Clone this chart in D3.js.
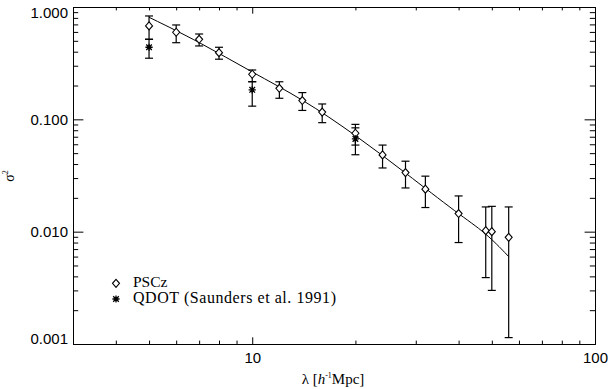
<!DOCTYPE html>
<html><head><meta charset="utf-8">
<script src="https://cdn.jsdelivr.net/npm/d3@7/dist/d3.min.js"></script>
<style>
html,body{margin:0;padding:0;background:#fff;}
svg{display:block;}
.tl text{font-family:"Liberation Sans",Arial,Helvetica,sans-serif;font-size:15px;fill:#000;}
.serif{font-family:"Liberation Serif","Times New Roman",Times,serif;fill:#000;}
</style></head>
<body>
<svg id="c" width="608" height="389"></svg>
<script>
// ---- data ----
const pscLambda = [5, 6, 7, 8, 10, 12, 14, 16, 20, 24, 28, 32, 40, 48, 50, 56];
const pscSigma  = [0.678, 0.596, 0.516, 0.392, 0.252, 0.189, 0.147, 0.116, 0.0752, 0.0482, 0.0336, 0.0239, 0.0145, 0.0102, 0.0100, 0.0089];
const pscHi     = [0.832, 0.692, 0.575, 0.438, 0.275, 0.216, 0.173, 0.137, 0.0902, 0.059, 0.0424, 0.0312, 0.0208, 0.0166, 0.0168, 0.0166];
const pscLo     = [0.516, 0.481, 0.450, 0.343, 0.2165, 0.154, 0.120, 0.0934, 0.059, 0.0369, 0.0245, 0.0164, 0.0080, 0.0039, 0.0030, 0.00114];

const qdotLambda = [5, 10, 20];
const qdotSigma  = [0.438, 0.183, 0.067];
const qdotHi     = [0.516, 0.216, 0.084];
const qdotLo     = [0.350, 0.131, 0.0484];

const fitLambda = [5, 7, 10, 14, 20, 28, 40, 48, 56];
const fitSigma  = [0.81, 0.49, 0.262, 0.152, 0.0726, 0.0334, 0.0143, 0.0098, 0.0060];

const xMajorTicks = [10, 100];
const xMinorTicks = [3, 4, 5, 6, 7, 8, 9, 20, 30, 40, 50, 60, 70, 80, 90];
const yMajorTicks = [1, 0.1, 0.01, 0.001];
const yMinorTicks = [];
[0.001, 0.01, 0.1].forEach(d => { for (let k = 2; k <= 9; k++) yMinorTicks.push(+(d * k).toPrecision(3)); });

const legendLabels = ["PSCz", "QDOT (Saunders et al. 1991)"];

// ---- layout ----
const L = 73, R = 595, T = 7, B = 344;
const svg = d3.select("#c");
const x = d3.scaleLog().domain([3, 100]).range([L, R]);
const y = d3.scaleLog().domain([0.001, 1]).range([B, T]);
const xMaj = 6.7, xMin = 3.4, yMaj = 10.4, yMin = 5.2;

function style(g) {
  g.select(".domain").attr("stroke", "#000").attr("stroke-width", 1);
  g.selectAll(".tick line").attr("stroke", "#000").attr("stroke-width", 1);
}

// bottom axis
const gB = svg.append("g").attr("class", "tl").attr("transform", `translate(0,${B})`)
  .call(d3.axisBottom(x).tickValues(xMajorTicks).tickSize(-xMaj).tickSizeOuter(0).tickPadding(8).tickFormat(d3.format("d")));
style(gB);
gB.selectAll("text").attr("font-size", 15);
svg.append("g").attr("transform", `translate(0,${B})`)
  .call(d3.axisBottom(x).tickValues(xMinorTicks).tickSize(-xMin).tickSizeOuter(0).tickFormat(""))
  .call(style);
// top axis
svg.append("g").attr("transform", `translate(0,${T})`)
  .call(d3.axisTop(x).tickValues(xMajorTicks).tickSize(-xMaj).tickSizeOuter(0).tickFormat("")).call(style);
svg.append("g").attr("transform", `translate(0,${T})`)
  .call(d3.axisTop(x).tickValues(xMinorTicks).tickSize(-xMin).tickSizeOuter(0).tickFormat("")).call(style);

// left axis
const gL = svg.append("g").attr("class", "tl").attr("transform", `translate(${L},0)`)
  .call(d3.axisLeft(y).tickValues(yMajorTicks).tickSize(-yMaj).tickSizeOuter(0).tickPadding(5).tickFormat(d3.format(".3f")));
style(gL);
gL.selectAll(".tick text").attr("font-size", 15).attr("y", d => d === 1 ? 6 : (d === 0.001 ? -5.5 : 0));
svg.append("g").attr("transform", `translate(${L},0)`)
  .call(d3.axisLeft(y).tickValues(yMinorTicks).tickSize(-yMin).tickSizeOuter(0).tickFormat("")).call(style);
// right axis
svg.append("g").attr("transform", `translate(${R},0)`)
  .call(d3.axisRight(y).tickValues(yMajorTicks).tickSize(-yMaj).tickSizeOuter(0).tickFormat("")).call(style);
svg.append("g").attr("transform", `translate(${R},0)`)
  .call(d3.axisRight(y).tickValues(yMinorTicks).tickSize(-yMin).tickSizeOuter(0).tickFormat("")).call(style);

// fit line
svg.append("path")
  .datum(fitLambda.map((l, i) => [l, fitSigma[i]]))
  .attr("fill", "none").attr("stroke", "#000").attr("stroke-width", 1)
  .attr("d", d3.line().x(d => x(d[0])).y(d => y(d[1])).curve(d3.curveBasis));

// error bars
function errorBars(lam, hi, lo) {
  const g = svg.append("g").attr("stroke", "#000").attr("stroke-width", 1.2);
  lam.forEach((l, i) => {
    const cx = x(l);
    g.append("line").attr("x1", cx).attr("x2", cx).attr("y1", y(hi[i])).attr("y2", y(lo[i]));
    g.append("line").attr("x1", cx - 4).attr("x2", cx + 4).attr("y1", y(hi[i])).attr("y2", y(hi[i]));
    g.append("line").attr("x1", cx - 4).attr("x2", cx + 4).attr("y1", y(lo[i])).attr("y2", y(lo[i]));
  });
}
errorBars(pscLambda, pscHi, pscLo);
errorBars(qdotLambda, qdotHi, qdotLo);

function diamond(g, cx, cy) {
  g.append("path").attr("d", `M${cx},${cy - 4}L${cx + 3.5},${cy}L${cx},${cy + 4}L${cx - 3.5},${cy}Z`)
    .attr("fill", "#fff").attr("stroke", "#000").attr("stroke-width", 1.1);
}
function asterisk(g, cx, cy) {
  const s = 3.6, d = 2.8;
  const p = `M${cx - s},${cy}L${cx + s},${cy}M${cx},${cy - s}L${cx},${cy + s}` +
            `M${cx - d},${cy - d}L${cx + d},${cy + d}M${cx - d},${cy + d}L${cx + d},${cy - d}`;
  g.append("path").attr("d", p).attr("stroke", "#000").attr("stroke-width", 1.3).attr("fill", "none");
}
const gm = svg.append("g");
pscLambda.forEach((l, i) => diamond(gm, x(l), y(pscSigma[i])));
qdotLambda.forEach((l, i) => asterisk(gm, x(l), y(qdotSigma[i])));

// legend
diamond(svg, 116, 283.3);
asterisk(svg, 116, 299);
svg.append("text").attr("class", "serif").attr("x", 133).attr("y", 287).attr("font-size", 15.5).text(legendLabels[0]);
svg.append("text").attr("class", "serif").attr("x", 133).attr("y", 302.5).attr("font-size", 16)
  .attr("textLength", 203).attr("lengthAdjust", "spacing").text(legendLabels[1]);

// axis titles
const xt = svg.append("text").attr("class", "serif").attr("x", 333).attr("y", 384)
  .attr("text-anchor", "middle").attr("font-size", 15);
xt.append("tspan").text("λ [");
xt.append("tspan").attr("font-style", "italic").text("h");
xt.append("tspan").attr("font-size", 8).attr("dy", -6).text("-1");
xt.append("tspan").attr("dy", 6).text("Mpc]");

const yt = svg.append("text").attr("class", "serif").attr("transform", "translate(14,176) rotate(-90)")
  .attr("text-anchor", "middle").attr("font-size", 14);
yt.append("tspan").text("σ");
yt.append("tspan").attr("font-size", 8).attr("dy", -6).text("2");
</script>
</body></html>
